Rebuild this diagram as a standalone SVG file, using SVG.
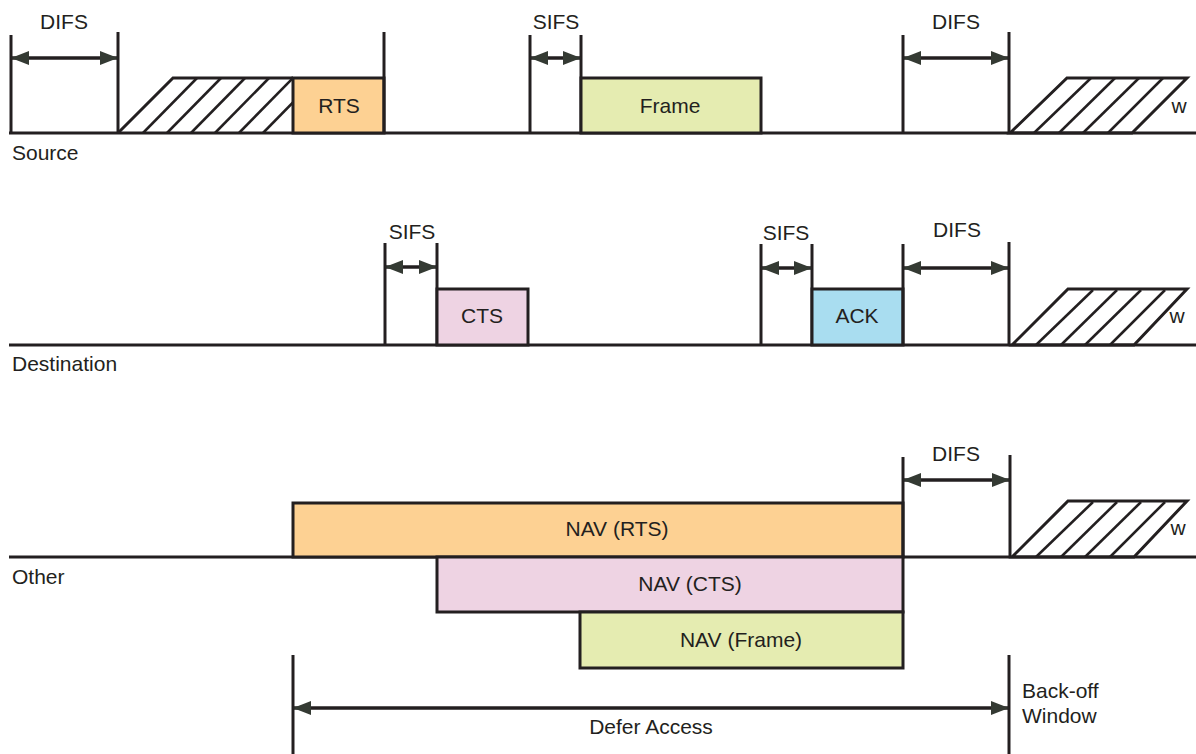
<svg xmlns="http://www.w3.org/2000/svg" width="1196" height="754" viewBox="0 0 1196 754">
<style>
.ln{stroke:#231f20;stroke-width:3;fill:none}
.hl{stroke:#231f20;stroke-width:2.6;fill:none}
.bx{stroke:#231f20;stroke-width:3}
.ar{stroke:#231f20;stroke-width:3.5;fill:none;marker-start:url(#ah);marker-end:url(#ah)}
text{font-family:"Liberation Sans",Arial,sans-serif;font-size:21px;fill:#231f20}
.c{text-anchor:middle}
</style>
<defs>
<marker id="ah" markerUnits="userSpaceOnUse" viewBox="0 0 18 14" refX="17" refY="7" markerWidth="18" markerHeight="14" orient="auto-start-reverse">
<path d="M0,0 L18,7 L0,14 Z" fill="#343a33"/>
</marker>
<clipPath id="cp1"><polygon points="118,133 173,78 293,78 293,133"/></clipPath>
<clipPath id="cp2"><polygon points="1010,133 1067,78 1187,78 1132,133"/></clipPath>
</defs>

<!-- Source row -->
<g id="source-row">
<line class="ln" x1="9" y1="133" x2="1196" y2="133"/>
<text x="12" y="160">Source</text>
</g>
<g id="src-difs1">
<line class="ln" x1="11" y1="35" x2="11" y2="133"/>
<line class="ln" x1="118" y1="32" x2="118" y2="133"/>
<text class="c" x="64" y="29">DIFS</text>
</g>
<g id="src-backoff1">
<g clip-path="url(#cp1)">
<line class="hl" x1="143" y1="133" x2="197" y2="78"/>
<line class="hl" x1="167" y1="133" x2="221" y2="78"/>
<line class="hl" x1="191" y1="133" x2="245" y2="78"/>
<line class="hl" x1="215" y1="133" x2="269" y2="78"/>
<line class="hl" x1="239" y1="133" x2="293" y2="78"/>
<line class="hl" x1="263" y1="133" x2="317" y2="78"/>
</g>
<polyline class="ln" points="118,133 173,78 293,78"/>
</g>
<g id="rts">
<rect class="bx" x="293" y="78" width="91" height="55" fill="#fdd193"/>
<line class="ln" x1="384" y1="32" x2="384" y2="133"/>
<text class="c" x="339" y="113">RTS</text>
</g>
<g id="src-sifs">
<line class="ln" x1="530" y1="35" x2="530" y2="133"/>
<line class="ln" x1="581" y1="35" x2="581" y2="133"/>
<text class="c" x="556" y="29">SIFS</text>
</g>
<g id="frame">
<rect class="bx" x="581" y="78" width="180" height="55" fill="#e5ecb1"/>
<text class="c" x="670" y="113">Frame</text>
</g>
<g id="src-difs2">
<line class="ln" x1="903" y1="35" x2="903" y2="133"/>
<line class="ln" x1="1009" y1="32" x2="1009" y2="133"/>
<text class="c" x="956" y="29">DIFS</text>
</g>
<g id="src-backoff2">
<g clip-path="url(#cp2)">
<line class="hl" x1="1034" y1="133" x2="1091" y2="78"/>
<line class="hl" x1="1059" y1="133" x2="1115" y2="78"/>
<line class="hl" x1="1083" y1="133" x2="1139" y2="78"/>
<line class="hl" x1="1108" y1="133" x2="1163" y2="78"/>
</g>
<polygon class="ln" points="1010,133 1067,78 1187,78 1132,133"/>
<text class="c" x="1179" y="113">w</text>
</g>

<!-- Destination row -->
<g id="dest-row">
<line class="ln" x1="9" y1="345" x2="1196" y2="345"/>
<text x="12" y="371">Destination</text>
</g>
<g id="dst-sifs1">
<line class="ln" x1="385" y1="243" x2="385" y2="345"/>
<line class="ln" x1="437" y1="243" x2="437" y2="345"/>
<text class="c" x="412" y="239">SIFS</text>
</g>
<g id="cts">
<rect class="bx" x="437" y="289" width="91" height="56" fill="#eed3e3"/>
<text class="c" x="482" y="323">CTS</text>
</g>
<g id="dst-sifs2">
<line class="ln" x1="761" y1="244" x2="761" y2="345"/>
<line class="ln" x1="812" y1="244" x2="812" y2="345"/>
<text class="c" x="786" y="240">SIFS</text>
</g>
<g id="ack">
<rect class="bx" x="812" y="289" width="91" height="56" fill="#a9ddf0"/>
<text class="c" x="857" y="323">ACK</text>
</g>
<g id="dst-difs">
<line class="ln" x1="903" y1="244" x2="903" y2="345"/>
<line class="ln" x1="1009" y1="242" x2="1009" y2="345"/>
<text class="c" x="957" y="237">DIFS</text>
</g>
<g id="dst-backoff">
<g clip-path="url(#cp2)" transform="translate(2,212)">
<line class="hl" x1="1034" y1="133" x2="1091" y2="78"/>
<line class="hl" x1="1059" y1="133" x2="1115" y2="78"/>
<line class="hl" x1="1083" y1="133" x2="1139" y2="78"/>
<line class="hl" x1="1108" y1="133" x2="1163" y2="78"/>
</g>
<polygon class="ln" points="1012,345 1068,289 1187,289 1134,345"/>
<text class="c" x="1177" y="323">w</text>
</g>

<!-- Other row -->
<g id="other-row">
<line class="ln" x1="9" y1="557" x2="1196" y2="557"/>
<text x="12" y="584">Other</text>
</g>
<g id="nav-rts">
<rect class="bx" x="293" y="503" width="610" height="54" fill="#fdd193"/>
<text class="c" x="617" y="536">NAV (RTS)</text>
</g>
<g id="nav-cts">
<rect class="bx" x="437" y="557" width="466" height="55" fill="#eed3e3"/>
<text class="c" x="690" y="591">NAV (CTS)</text>
</g>
<g id="nav-frame">
<rect class="bx" x="580" y="612" width="323" height="56" fill="#e5ecb1"/>
<text class="c" x="741" y="647">NAV (Frame)</text>
</g>
<g id="oth-difs">
<line class="ln" x1="903" y1="457" x2="903" y2="557"/>
<line class="ln" x1="1010" y1="455" x2="1010" y2="557"/>
<text class="c" x="956" y="461">DIFS</text>
</g>
<g id="oth-backoff">
<g clip-path="url(#cp2)" transform="translate(2,424)">
<line class="hl" x1="1034" y1="133" x2="1091" y2="78"/>
<line class="hl" x1="1059" y1="133" x2="1115" y2="78"/>
<line class="hl" x1="1083" y1="133" x2="1139" y2="78"/>
<line class="hl" x1="1108" y1="133" x2="1163" y2="78"/>
</g>
<polygon class="ln" points="1012,557 1068,501 1187,501 1134,557"/>
<text class="c" x="1178" y="535">w</text>
</g>
<g id="defer">
<line class="ln" x1="293" y1="655" x2="293" y2="754"/>
<line class="ln" x1="1009" y1="655" x2="1009" y2="754"/>
<text class="c" x="651" y="734">Defer Access</text>
<text x="1022" y="698">Back-off</text>
<text x="1022" y="723">Window</text>
</g>

<!-- connectors (interval arrows) -->
<g id="connectors">
<line class="ar" x1="12" y1="58" x2="117" y2="58"/>
<line class="ar" x1="531" y1="58" x2="580" y2="58"/>
<line class="ar" x1="904" y1="58" x2="1008" y2="58"/>
<line class="ar" x1="386" y1="267" x2="436" y2="267"/>
<line class="ar" x1="762" y1="268" x2="811" y2="268"/>
<line class="ar" x1="904" y1="268" x2="1008" y2="268"/>
<line class="ar" x1="904" y1="480" x2="1009" y2="480"/>
<line class="ar" x1="294" y1="708" x2="1008" y2="708"/>
</g>
</svg>
